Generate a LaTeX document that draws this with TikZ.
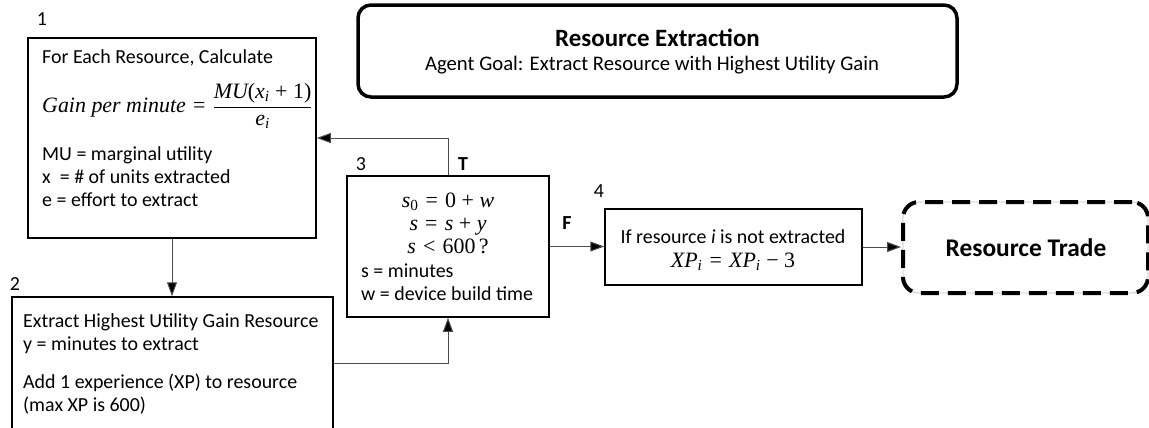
\documentclass[tikz,border=0pt]{standalone}
\usepackage{fix-cm}
\usepackage{amsmath}
\usepackage[no-math]{fontspec}
\setmainfont{Carlito}
\newfontfamily\formulafont[Scale=1.1]{Liberation Serif}
% formula letters (italic) and upright symbols set in a serif text face
\newcommand\fmi[1]{\text{\formulafont\itshape #1}}
\newcommand\fmu[1]{\text{\formulafont #1}}
% a little more air around relations and operators
\thickmuskip=6.5mu plus 2mu
\medmuskip=5mu plus 2mu
\usetikzlibrary{arrows.meta}
\begin{document}
\begin{tikzpicture}[x=1bp,y=-1bp,
  box/.style={draw, line width=1.5bp, inner sep=0pt},
  conn/.style={draw=black!70, line width=1bp, -{Triangle[length=14bp,width=10bp,fill=black]}},
  txt/.style={anchor=base west, inner sep=0pt, font=\fontsize{20}{24}\selectfont},
  ctxt/.style={anchor=base, inner sep=0pt, font=\fontsize{20}{24}\selectfont},
  lbl/.style={anchor=base, inner sep=0pt, font=\fontsize{20}{24}\selectfont},
  blbl/.style={anchor=base, inner sep=0pt, font=\fontsize{20}{24}\selectfont\bfseries},
  titlebox/.style={draw, line width=3.5bp, rounded corners=13bp, inner sep=0pt},
  tradebox/.style={draw, line width=4bp, dash pattern=on 18bp off 9bp, rounded corners=16bp, inner sep=0pt}
]
\useasboundingbox (0,0) rectangle (1149,427);

% Title panel
\node[titlebox, minimum width=599bp, minimum height=92bp] (title) at (657.5,51) {};
\node[anchor=base, inner sep=0pt, font=\fontsize{25}{29}\selectfont\bfseries] (ttl) at (657.5,46.5) {Resource Extraction};
\node[anchor=base, inner sep=0pt, font=\fontsize{20.8}{24}\selectfont] (sub) at (652,70) {Agent Goal: Extract Resource with Highest Utility Gain};

% Step 1: gain per minute
\node[box, minimum width=288bp, minimum height=200bp] (b1) at (172,138) {};
\node[lbl] (n1) at (42,25) {1};
\node[txt] (b1a) at (42,63) {For Each Resource, Calculate};
\node[txt] (b1b) at (42,112) {$\displaystyle \fmi{Gain per minute} \mathrel{\fmu{=}} \frac{\fmi{MU}\fmu{(}\fmi{x}_{\fmi{i}} \mathbin{\fmu{+}} \fmu{1)}}{\fmi{e}_{\fmi{i}}}$};
\node[txt] (b1c) at (42,160) {MU = marginal utility};
\node[txt] (b1d) at (42,183) {x\ \ = \# of units extracted};
\node[txt] (b1e) at (42,206) {e = effort to extract};

% Step 2: extraction
\node[box, minimum width=321bp, minimum height=132bp] (b2) at (172.5,363) {};
\node[lbl] (n2) at (15,290) {2};
\node[txt] (b2a) at (23,327) {Extract Highest Utility Gain Resource};
\node[txt] (b2b) at (23,350) {y = minutes to extract};
\node[txt] (b2c) at (23,388) {Add 1 experience (XP) to resource};
\node[txt] (b2d) at (23,411) {(max XP is 600)};

% Step 3: time check
\node[box, minimum width=202bp, minimum height=141bp] (b3) at (448,246.5) {};
\node[lbl] (n3) at (361,170) {3};
\node[ctxt] (b3a) at (448,207) {$\fmi{s}_{\fmu{0}} \mathrel{\fmu{=}} \fmu{0} \mathbin{\fmu{+}} \fmi{w}$};
\node[ctxt] (b3b) at (448,230) {$\fmi{s} \mathrel{\fmu{=}} \fmi{s} \mathbin{\fmu{+}} \fmi{y}$};
\node[ctxt] (b3c) at (448,253) {$\fmi{s} \mathrel{\fmu{<}} \fmu{600}$\,\fmu{?}};
\node[txt] (b3d) at (361,277) {s = minutes};
\node[txt] (b3e) at (361,300) {w = device build time};

% Step 4: experience decay
\node[box, minimum width=257bp, minimum height=76bp] (b4) at (733.5,247) {};
\node[lbl] (n4) at (599,197) {4};
\node[ctxt] (b4a) at (733,243) {If resource \textit{i} is not extracted};
\node[ctxt] (b4b) at (733,267) {$\fmi{XP}_{\fmi{i}} \mathrel{\fmu{=}} \fmi{XP}_{\fmi{i}} \mathbin{\fmu{−}} \fmu{3}$};

% Next phase
\draw[black!25, line width=0.8bp, rounded corners=16bp] (903,202) rectangle (1148,293);
\node[tradebox, minimum width=245bp, minimum height=91bp] (rt) at (1025.5,247.5) {};
\node[inner sep=0pt, font=\fontsize{25.5}{29}\selectfont\bfseries] (rtt) at (1026,248) {Resource Trade};

% Branch labels
\node[blbl] (lt) at (463,170) {T};
\node[blbl] (lf) at (567,229) {F};

% Connectors
\draw[conn] (b1.south) -- (b1.south |- b2.north);
\draw[conn] (b2.east) -| (b3.south);
\draw[conn] (b3.north) |- (b1.east);
\draw[conn] (b3.east) -- (b3.east -| b4.west);
\draw[conn] (b4.east) -- (b4.east -| rt.west);
\end{tikzpicture}
\end{document}
